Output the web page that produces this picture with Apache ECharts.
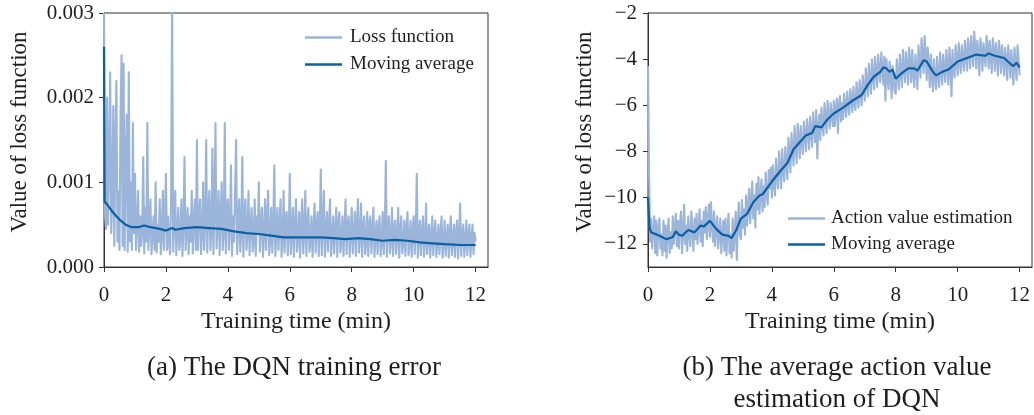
<!DOCTYPE html>
<html><head><meta charset="utf-8">
<script src="https://cdn.jsdelivr.net/npm/echarts@6/dist/echarts.min.js"></script>
<style>html,body{margin:0;padding:0;background:#fff}#c{width:1034px;height:415px}</style>
</head><body><div id="c"></div>
<script>
// ---- data ----
const sampleStep = 1/30; // minutes between raw samples (30 per minute)
// Loss function raw values, in units of 1e-4 (one row per minute)
const lossRaw = [
30,6,4.5,20,5,13,23,4,8,19,2.5,15,22,3,9,2,18,25,2.5,24,2,12,18,1.8,23,3,10,2,17,4,
11,2,5,9,1.8,6,2.5,4,13,1.6,7,3,17,2,5,8,1.5,4,6,2,10,1.7,5,3,8,1.5,4,9,2,6,
11,2,6,3,1.5,8,32,1.8,5,9,1.4,4,7,2,3.5,8,1.3,5,13,2,4,7,1.5,6,3,9,1.6,5,8,2,
15,2,6,8,1.5,4,10,2,5,15,1.7,6,9,2,4,14,1.5,7,17,2.2,5,9,1.4,6,10,2,4,17,1.6,7,
8,2,5,12,1.3,6,3,9,15,1.5,5,8,1.8,4,13,1.2,6,8,2,4,9,1.4,5,7,1.8,3,8,1.3,6,4,
10,1.8,5,7,1.2,4,8,2,6,9,1.4,3.5,7,1.7,5,12,1.3,4,7,2,5,8,1.2,3,9,1.7,6,6.5,1.4,4,
11,1.5,4,7,1.2,5,8,1.8,3.5,6.5,1.1,5,8,1.6,4,9,1.3,5,7,1.8,3,6,1.2,4.5,7.5,1.7,5,6.5,1.3,4,
11.5,1.4,5,9,1.2,4,6.5,1.8,5,8,1.3,3.5,6,1.6,4.5,7,1.2,5,6.5,1.7,3,6,1.3,4.5,8,1.5,5,6,1.2,4,
7,1.6,4,6.5,1.3,5,8,1.7,3.5,7.5,1.2,4.5,6,1.5,3,6.5,1.3,5,6,1.6,4,7,1.2,3.5,5.5,1.5,4.5,6,1.3,3,
6.5,1.5,4,12.5,1.2,5,6,1.6,3,7,1.3,4.5,5.5,1.5,3.5,7,1.1,4,6,1.6,3,5.5,1.3,4.5,6.5,1.4,3,5.5,1.2,4,
6,1.5,4,11,1.1,3.5,5.5,1.4,4,6,1.2,3,7.5,1.5,4,5,1.1,3.5,6,1.4,4,5.5,1.2,3,5,1.5,4,6,1.1,3,
5.5,1.3,3.5,5,1.1,4,6,1.4,3,5,1.2,4,5.5,1.0,3.5,7.5,1.3,4,5,1.2,3,5.5,1.4,4,5,1.2,3.5,5,1.5,4,
3
];
const lossMaTime = [0,0.02,0.1,0.3,0.5,0.7,0.9,1.1,1.3,1.5,1.8,2.0,2.2,2.3,2.6,3.0,3.4,3.8,4.2,4.6,5.0,5.4,5.8,6.2,6.6,7.0,7.4,7.8,8.2,8.6,9.0,9.4,9.8,10.2,10.6,11.0,11.5,12.0];
const lossMaVal  = [26,7.7,7.4,6.4,5.6,5.0,4.7,4.7,4.9,4.7,4.5,4.3,4.6,4.4,4.6,4.7,4.6,4.5,4.2,4.0,3.9,3.7,3.5,3.5,3.5,3.5,3.4,3.3,3.4,3.3,3.1,3.2,3.1,2.9,2.8,2.7,2.6,2.6];

// Action value estimation raw values (one row per minute)
const actionRaw = [
-4.3,-8.8,-11.9,-10.9,-12.2,-11.4,-10.8,-12.4,-11.0,-12.5,-11.3,-10.9,-12.2,-11.6,-12.5,-11.0,-12.3,-11.2,-12.6,-11.4,-10.9,-12.4,-11.5,-12.2,-10.8,-12.0,-11.3,-10.7,-12.1,-11.0,
-12.2,-11.1,-10.6,-12.4,-11.5,-10.3,-12.0,-11.2,-12.3,-10.8,-11.6,-12.1,-10.6,-11.4,-12.3,-10.9,-11.8,-10.7,-12.0,-11.3,-10.5,-11.9,-11.0,-12.1,-10.6,-11.5,-10.4,-11.8,-11.0,-10.3,
-11.7,-10.2,-11.2,-11.9,-10.6,-12.1,-11.3,-10.8,-12.2,-11.5,-10.9,-12.4,-11.6,-11.0,-12.3,-10.9,-12.5,-11.4,-10.7,-12.4,-11.6,-12.6,-10.9,-12.3,-11.5,-10.6,-12.7,-11.2,-10.2,-11.6,
-11.8,-10.1,-11.3,-10.5,-11.6,-9.9,-11.2,-10.4,-9.6,-11.1,-10.2,-9.3,-10.9,-9.9,-11.3,-9.4,-10.5,-9.1,-10.7,-9.8,-9.2,-10.6,-9.5,-10.4,-8.9,-9.9,-10.3,-8.8,-9.6,-8.7,
-10.0,-8.6,-9.4,-9.9,-8.3,-9.1,-9.6,-8.0,-8.7,-9.6,-7.9,-8.8,-9.3,-7.8,-8.5,-9.2,-7.4,-8.1,-8.9,-7.2,-7.9,-8.6,-6.9,-7.8,-8.5,-6.8,-7.4,-8.3,-6.9,-7.6,
-8.1,-6.7,-7.3,-8.0,-6.6,-7.1,-7.9,-6.5,-7.2,-7.8,-6.3,-7.0,-7.6,-6.2,-8.3,-6.9,-6.4,-7.5,-6.1,-6.8,-7.3,-5.9,-6.6,-7.2,-5.8,-6.4,-7.0,-5.9,-6.5,-6.9,
-5.8,-6.9,-6.2,-5.7,-7.2,-6.0,-5.6,-6.7,-5.9,-6.6,-5.5,-6.1,-6.5,-5.4,-6.0,-6.4,-5.3,-5.8,-6.3,-5.2,-5.9,-6.2,-5.0,-5.6,-6.1,-4.9,-5.5,-6.0,-4.7,-5.2,
-5.8,-4.4,-5.0,-5.6,-4.2,-4.9,-5.5,-4.0,-4.7,-5.3,-3.9,-4.6,-5.2,-3.8,-4.5,-5.0,-3.7,-4.4,-5.1,-3.9,-5.8,-4.0,-4.8,-5.3,-4.1,-4.6,-5.7,-4.3,-4.9,-5.4,
-5.5,-4.0,-4.7,-5.3,-3.8,-4.5,-5.2,-3.6,-4.4,-5.0,-3.7,-4.3,-5.1,-3.5,-4.2,-5.0,-3.6,-4.6,-5.2,-3.8,-4.4,-5.3,-3.4,-4.1,-4.8,-3.1,-3.9,-4.6,-3.0,-3.8,
-4.9,-3.5,-4.3,-5.2,-3.8,-4.6,-5.4,-4.0,-4.8,-5.3,-3.9,-4.7,-5.2,-3.7,-4.5,-5.1,-3.8,-4.4,-5.0,-3.6,-4.3,-5.1,-3.5,-4.2,-5.6,-3.6,-4.4,-4.8,-3.4,-4.0,
-4.7,-3.3,-4.0,-4.6,-3.4,-3.9,-4.5,-3.2,-3.8,-4.5,-3.1,-3.7,-4.4,-3.0,-3.6,-4.3,-2.8,-3.5,-4.4,-3.2,-3.7,-4.7,-3.1,-3.6,-4.5,-3.3,-3.8,-4.3,-3.0,-3.5,
-4.4,-3.2,-3.8,-4.6,-3.1,-3.7,-4.5,-3.3,-3.9,-4.7,-3.2,-3.8,-4.6,-3.4,-4.0,-4.7,-3.5,-4.1,-4.9,-3.4,-4.0,-4.8,-3.6,-4.2,-5.1,-3.5,-4.1,-4.9,-3.4,-4.0,
-4.7
];
const actionMaTime = [0,0.05,0.1,0.3,0.6,0.8,0.9,1.0,1.1,1.3,1.5,1.7,1.8,2.0,2.2,2.4,2.6,2.7,2.85,3.0,3.2,3.4,3.6,3.7,4.0,4.3,4.5,4.7,4.9,5.1,5.3,5.4,5.6,5.8,6.0,6.3,6.6,6.9,7.1,7.3,7.5,7.6,7.7,7.8,7.9,8.0,8.2,8.4,8.6,8.7,8.9,9.0,9.2,9.3,9.5,9.7,10.0,10.3,10.6,10.9,11.0,11.2,11.5,11.7,11.8,11.9,12.0];
const actionMaVal  = [-10.0,-11.3,-11.5,-11.6,-11.8,-11.7,-11.45,-11.6,-11.65,-11.4,-11.5,-11.2,-11.25,-11.0,-11.35,-11.6,-11.65,-11.75,-11.4,-10.9,-10.7,-10.2,-9.9,-9.85,-9.3,-8.8,-8.5,-7.9,-7.6,-7.3,-7.2,-6.9,-6.95,-6.6,-6.35,-6.1,-5.8,-5.55,-5.1,-4.75,-4.55,-4.35,-4.4,-4.55,-4.45,-4.85,-4.6,-4.4,-4.4,-4.5,-4.05,-4.1,-4.55,-4.7,-4.55,-4.45,-4.1,-3.95,-3.8,-3.85,-3.75,-3.85,-3.95,-4.2,-4.3,-4.15,-4.35];

const xTicks = [0,2,4,6,8,10,12];
const lossTicks = [0,10,20,30];
const lossTickLabels = ['0.000','0.001','0.002','0.003'];
const actionTicks = [-12,-10,-8,-6,-4,-2];

// ---- build ----
const FONT = "'Liberation Serif','DejaVu Serif',serif";
const LIGHT = '#9bb5da', DARK = '#0b5fa7', AX = '#333', TXT = '#1e1e1e';
const pairsStep = arr => arr.map((v,i) => [i*sampleStep, v]);
const zip = (a,b) => a.map((t,i) => [t, b[i]]);

function xAxis(gi){
  return {type:'value', gridIndex:gi, min:0, max:12.4,
    axisLine:{show:true, onZero:false, lineStyle:{color:AX, width:1}},
    axisTick:{show:true, inside:false, length:5, customValues:xTicks, lineStyle:{color:AX}},
    axisLabel:{customValues:xTicks, fontFamily:FONT, fontSize:21, color:TXT, margin:18},
    splitLine:{show:false}};
}
const chart = echarts.init(document.getElementById('c'), null, {renderer:'canvas'});
chart.setOption({
  animation:false,
  backgroundColor:'#fff',
  grid:[
    {left:104, top:13, width:384, height:254, show:true, borderColor:AX, borderWidth:1, backgroundColor:'transparent'},
    {left:648, top:13, width:384, height:254, show:true, borderColor:AX, borderWidth:1, backgroundColor:'transparent'}
  ],
  xAxis:[xAxis(0), xAxis(1)],
  yAxis:[
    {type:'value', gridIndex:0, min:0, max:30,
      axisLine:{show:true, lineStyle:{color:AX}},
      axisTick:{show:true, length:5, customValues:lossTicks, lineStyle:{color:AX}},
      axisLabel:{customValues:lossTicks, fontFamily:FONT, fontSize:21, color:TXT, margin:10,
        formatter:v => lossTickLabels[lossTicks.indexOf(v)]},
      splitLine:{show:false}},
    {type:'value', gridIndex:1, min:-13, max:-2,
      axisLine:{show:true, onZero:false, lineStyle:{color:AX}},
      axisTick:{show:true, length:5, customValues:actionTicks, lineStyle:{color:AX}},
      axisLabel:{customValues:actionTicks, fontFamily:FONT, fontSize:21, color:TXT, margin:11,
        formatter:v => (v<0?'\u2212':'') + Math.abs(v)},
      splitLine:{show:false}}
  ],
  legend:[
    {orient:'vertical', left:300, top:23, itemWidth:37, itemHeight:2.5, itemGap:8, icon:'rect',
     data:['Loss function','Moving average'],
     textStyle:{fontFamily:FONT, fontSize:19, color:TXT, padding:[0,0,0,3]}},
    {orient:'vertical', left:783, top:204, itemWidth:37, itemHeight:2.5, itemGap:7, icon:'rect',
     data:['Action value estimation','Moving average'],
     textStyle:{fontFamily:FONT, fontSize:19, color:TXT, padding:[0,0,0,1]}}
  ],
  series:[
    {name:'Loss function', type:'line', xAxisIndex:0, yAxisIndex:0, data:pairsStep(lossRaw),
     showSymbol:false, symbol:'none', sampling:null, lineStyle:{color:LIGHT, width:2.1, join:'round'}, itemStyle:{color:LIGHT}, z:2},
    {name:'Moving average', type:'line', xAxisIndex:0, yAxisIndex:0, data:zip(lossMaTime, lossMaVal),
     showSymbol:false, symbol:'none', lineStyle:{color:DARK, width:2.2}, itemStyle:{color:DARK}, z:3},
    {name:'Action value estimation', type:'line', xAxisIndex:1, yAxisIndex:1, data:pairsStep(actionRaw),
     showSymbol:false, symbol:'none', sampling:null, lineStyle:{color:LIGHT, width:2.1, join:'round'}, itemStyle:{color:LIGHT}, z:2},
    {name:'Moving average', type:'line', xAxisIndex:1, yAxisIndex:1, data:zip(actionMaTime, actionMaVal),
     showSymbol:false, symbol:'none', lineStyle:{color:DARK, width:2.2}, itemStyle:{color:DARK}, z:3}
  ],
  graphic:[
    {type:'text', x:20, y:132, rotation:Math.PI/2, style:{text:'Value of loss function', font:"23px "+FONT, fill:TXT, align:'center', verticalAlign:'middle'}},
    {type:'text', x:585, y:132, rotation:Math.PI/2, style:{text:'Value of loss function', font:"23px "+FONT, fill:TXT, align:'center', verticalAlign:'middle'}},
    {type:'text', x:296, y:322, style:{text:'Training time (min)', font:"24px "+FONT, fill:TXT, align:'center', verticalAlign:'middle'}},
    {type:'text', x:840, y:322, style:{text:'Training time (min)', font:"24px "+FONT, fill:TXT, align:'center', verticalAlign:'middle'}},
    {type:'text', x:294, y:368, style:{text:'(a) The DQN training error', font:"27px "+FONT, fill:TXT, align:'center', verticalAlign:'middle'}},
    {type:'text', x:837, y:384, style:{text:'(b) The average action value\nestimation of DQN', font:"27px "+FONT, fill:TXT, align:'center', verticalAlign:'middle', lineHeight:32}}
  ]
});
</script></body></html>
